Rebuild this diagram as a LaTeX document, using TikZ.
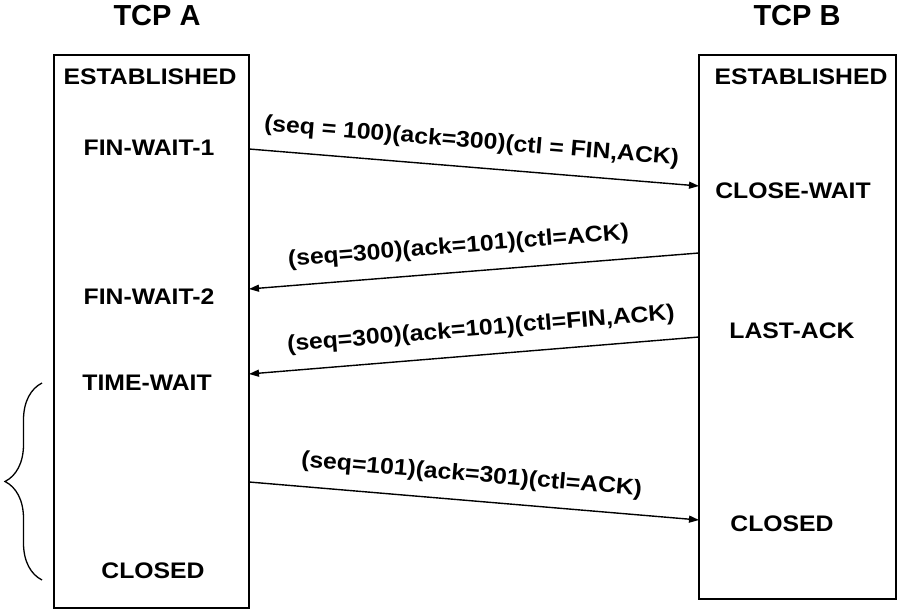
\documentclass[tikz,border=0pt]{standalone}
\usepackage{fontspec}
\setmainfont{Liberation Sans}[FakeStretch=1.1]
\newfontfamily\titlefont{Liberation Sans}
\usetikzlibrary{arrows.meta, decorations.pathreplacing}

\begin{document}
\begin{tikzpicture}[
    x=1pt, y=-1pt,
    title/.style={font=\titlefont\bfseries\fontsize{29}{33}\selectfont, inner sep=0pt},
    state/.style={font=\bfseries\fontsize{22.5}{26}\selectfont, inner sep=0pt},
    msg/.style={font=\bfseries\fontsize{22.5}{26}\selectfont, inner sep=0pt, sloped, above=14pt},
    lane/.style={draw=black, line width=1.4pt},
    arrow/.style={-{Triangle[length=10pt, width=7pt]}, line width=1.4pt}
]
\useasboundingbox (0,0) rectangle (913,612);

% Titles
\node[title] (tcpa) at (157,16) {TCP A};
\node[title] (tcpb) at (797,16) {TCP B};

% Lanes
\draw[lane] (54,55) rectangle (249,608);
\draw[lane] (699,55) rectangle (896,599);

% TCP A states
\node[state] (estA) at (150,77) {ESTABLISHED};
\node[state] (fw1) at (149,148) {FIN-WAIT-1};
\node[state] (fw2) at (149,297) {FIN-WAIT-2};
\node[state] (tw) at (147,383) {TIME-WAIT};
\node[state] (closedA) at (153,571) {CLOSED};

% TCP B states
\node[state] (estB) at (801,77) {ESTABLISHED};
\node[state] (cw) at (793,191) {CLOSE-WAIT};
\node[state] (lack) at (792,331) {LAST-ACK};
\node[state] (closedB) at (782,524) {CLOSED};

% Message end points
\coordinate (a1) at (249,149);
\coordinate (b1) at (699,186);
\coordinate (b2) at (699,253);
\coordinate (a2) at (249,289);
\coordinate (b3) at (699,337);
\coordinate (a3) at (249,374);
\coordinate (a4) at (249,482);
\coordinate (b4) at (699,520);

% Messages
\draw[arrow] (a1) -- node[msg, pos=0.49] {(seq = 100)(ack=300)(ctl = FIN,ACK)} (b1);
\draw[arrow] (b2) -- node[msg, pos=0.53] {(seq=300)(ack=101)(ctl=ACK)} (a2);
\draw[arrow] (b3) -- node[msg, pos=0.48] {(seq=300)(ack=101)(ctl=FIN,ACK)} (a3);
\draw[arrow] (a4) -- node[msg, pos=0.49] {(seq=101)(ack=301)(ctl=ACK)} (b4);

% Time-wait brace
\coordinate (brtop) at (42,383);
\coordinate (brbot) at (42,580);
\draw[line width=1.3pt, decorate, decoration={brace, amplitude=37pt}] (brbot) -- (brtop);

\end{tikzpicture}
\end{document}
